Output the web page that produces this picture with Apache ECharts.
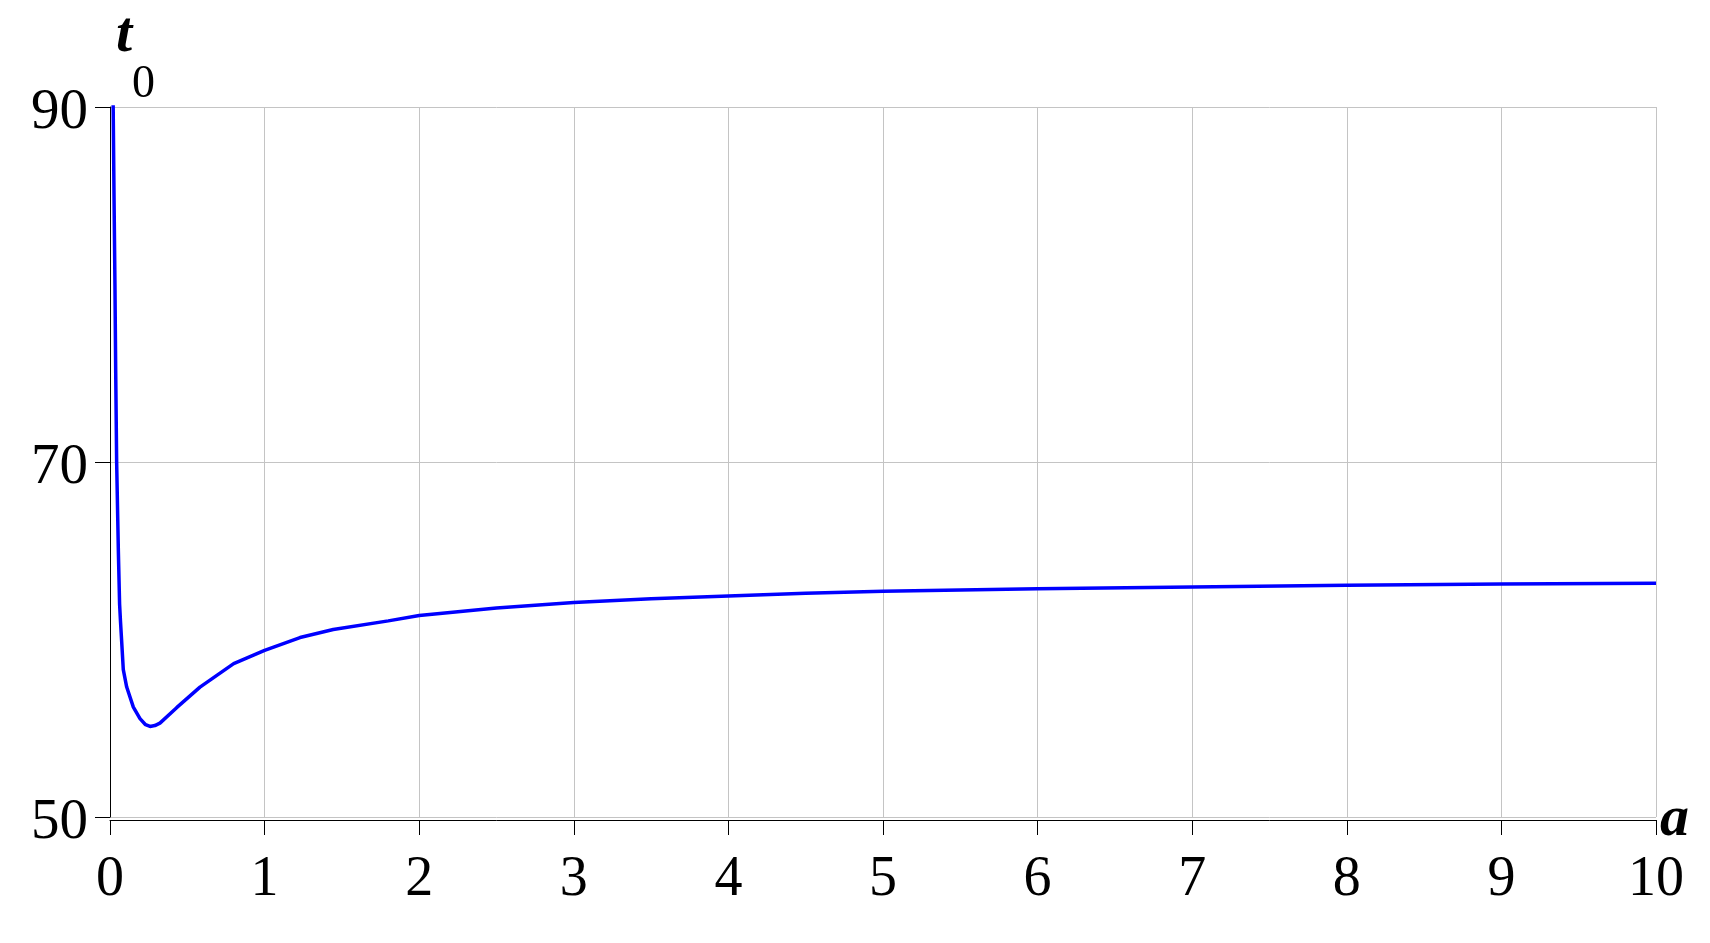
<!DOCTYPE html>
<html>
<head>
<meta charset="utf-8">
<script src="https://cdn.jsdelivr.net/npm/echarts@6/dist/echarts.min.js"></script>
<style>
html,body{margin:0;padding:0;background:#fff;}
#chart{width:1710px;height:943px;}
</style>
</head>
<body>
<div id="chart"></div>
<script>
// a values (x)
const aValues = [0.02, 0.026, 0.032, 0.037, 0.043, 0.054, 0.062, 0.068, 0.075, 0.086, 0.108, 0.151, 0.194, 0.23, 0.259, 0.29, 0.323, 0.431, 0.582, 0.8, 1.0, 1.229, 1.444, 1.8, 2, 2.5, 3, 3.5, 4, 4.5, 5, 6, 7, 8, 9, 10];
// t0 values (y)
const t0Values = [90.5, 85, 80, 75, 70, 65, 62, 61, 59.96, 58.3, 57.32, 56.19, 55.54, 55.2, 55.1, 55.15, 55.29, 56.16, 57.32, 58.64, 59.39, 60.11, 60.56, 61.05, 61.35, 61.78, 62.08, 62.29, 62.45, 62.6, 62.72, 62.86, 62.96, 63.05, 63.12, 63.17];
// tick labels
const xTickValues = [0,1,2,3,4,5,6,7,8,9,10];
const yTickLabels = [50, 70, 90];

const serif = '"Liberation Serif", "DejaVu Serif", serif';
const chart = echarts.init(document.getElementById('chart'), null, {renderer: 'canvas'});
const seriesData = aValues.map((a, i) => [a, t0Values[i]]);

chart.setOption({
  backgroundColor: '#ffffff',
  animation: false,
  grid: {left: 110, right: 54, top: 107, bottom: 126, containLabel: false, outerBoundsMode: 'none'},
  xAxis: {
    type: 'value',
    min: 0, max: 10, interval: 1,
    offset: 3,
    name: 'a',
    nameLocation: 'end',
    nameGap: 4,
    nameTextStyle: {fontFamily: serif, fontSize: 58, fontStyle: 'italic', fontWeight: 'bold', color: '#000', verticalAlign: 'middle', padding: [0,0,4,0]},
    axisLine: {show: true, lineStyle: {color: '#000', width: 1}},
    axisTick: {show: true, length: 15, inside: false, lineStyle: {color: '#000', width: 1}, customValues: xTickValues},
    axisLabel: {fontFamily: serif, fontSize: 56, color: '#000', margin: 32, customValues: xTickValues},
    splitLine: {show: true, lineStyle: {color: '#c4c4c4', width: 1}}
  },
  yAxis: {
    type: 'value',
    min: 50, max: 90, interval: 10,
    name: '{t|t}\n{s|0}',
    nameLocation: 'end',
    nameGap: 8,
    nameTextStyle: {
      align: 'left', verticalAlign: 'bottom', color: '#000',
      rich: {
        t: {fontFamily: serif, fontSize: 58, fontStyle: 'italic', fontWeight: 'bold', lineHeight: 70, padding: [0,0,0,6], color: '#000'},
        s: {fontFamily: serif, fontSize: 46, lineHeight: 28, padding: [0,0,0,22], color: '#000'}
      }
    },
    axisLine: {show: true, onZero: false, lineStyle: {color: '#000', width: 1}},
    axisTick: {show: true, length: 15, lineStyle: {color: '#000', width: 1}, customValues: yTickLabels},
    axisLabel: {fontFamily: serif, fontSize: 57, color: '#000', margin: 22, verticalAlign: 'top', lineHeight: 12, customValues: yTickLabels},
    splitLine: {show: true, lineStyle: {color: '#c4c4c4', width: 1}}
  },
  series: [{
    type: 'line',
    data: seriesData,
    showSymbol: false,
    smooth: false,
    clip: true,
    lineStyle: {color: '#0000ff', width: 3.5},
    itemStyle: {color: '#0000ff'}
  }]
});
</script>
</body>
</html>
